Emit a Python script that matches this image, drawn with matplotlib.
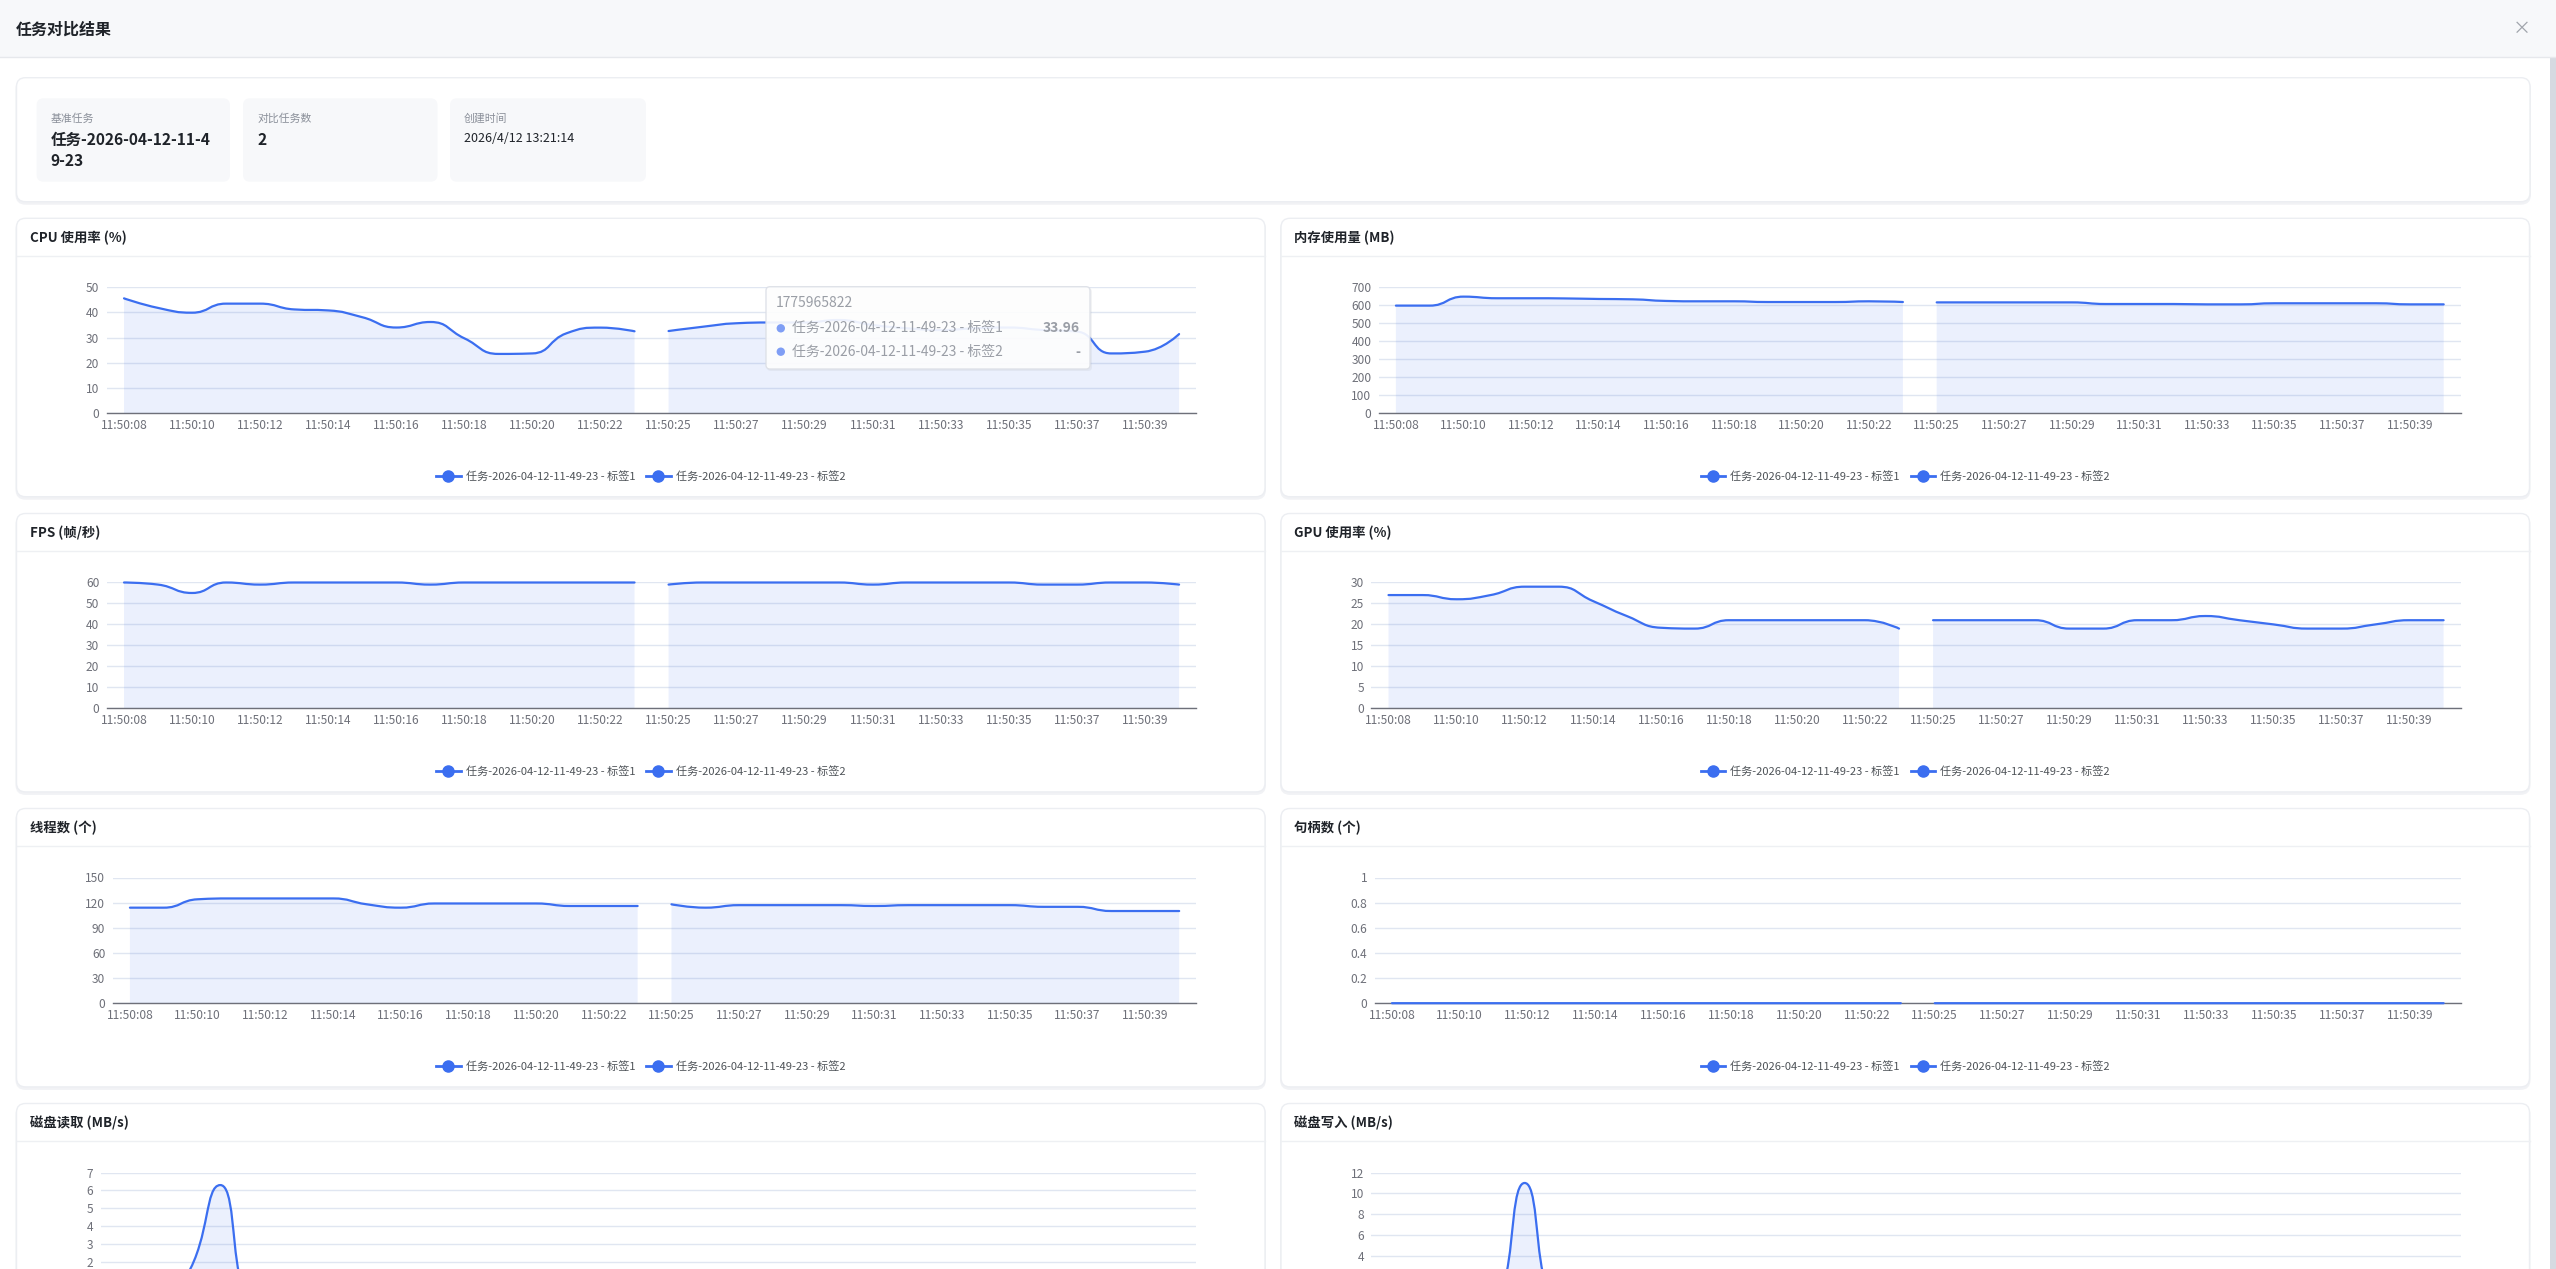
import matplotlib
matplotlib.use("Agg")
import matplotlib.pyplot as plt
from matplotlib.patches import FancyBboxPatch, Rectangle, PathPatch, Circle
from matplotlib.path import Path
from matplotlib.lines import Line2D
import numpy as np

plt.rcParams['font.family'] = ['Noto Sans CJK SC', 'DejaVu Sans']

W, H = 2556, 1269

# ---- data ----
times = ["11:50:%02d" % s for s in range(8, 24)] + ["11:50:%02d" % s for s in range(25, 41)]
series_names = ["任务-2026-04-12-11-49-23 - 标签1", "任务-2026-04-12-11-49-23 - 标签2"]

cpu_1 = [45.6, 41.8, 39.9, 43.5, 43.5, 41.2, 40.8, 38.1, 34.0, 36.2, 29.7, 23.5, 23.7, 31.7, 33.96, 32.5]
cpu_2 = [32.6, 34.3, 35.7, 36.0, 36.0, 37.0, 35.0, 33.7, 33.0, 33.7, 34.0, 33.0, 32.4, 23.7, 24.4, 31.4]

mem_1 = [598, 598, 648, 639, 639, 638, 635, 633, 624, 622, 622, 618, 618, 618, 622, 618]
mem_2 = [616, 616, 616, 616, 616, 607, 607, 607, 605, 605, 611, 611, 611, 611, 605, 605]

fps_1 = [60, 59, 55, 60, 59, 60, 60, 60, 60, 59, 60, 60, 60, 60, 60, 60]
fps_2 = [59, 60, 60, 60, 60, 60, 59, 60, 60, 60, 60, 59, 59, 60, 60, 59]

gpu_1 = [27, 27, 26, 27, 29, 29, 25.6, 22, 19.2, 19, 21, 21, 21, 21, 21, 19]
gpu_2 = [21, 21, 21, 21, 19, 19, 21, 21, 22, 21, 20, 19, 19, 20, 21, 21]

thr_1 = [114, 114, 124, 125, 125, 125, 125, 118, 114, 119, 119, 119, 119, 116, 116, 116]
thr_2 = [118, 114, 117, 117, 117, 117, 116, 117, 117, 117, 117, 115, 115, 110, 110, 110]

hdl_1 = [0] * 16
hdl_2 = [0] * 16

dr_1 = [0, 0, 1.2, 6.3, 0, 0, 0, 0, 0, 0, 0, 0, 0, 0, 0, 0]
dr_2 = [0] * 16

dw_1 = [0, 0, 0, 0, 11, 0, 0, 0, 0, 0, 0, 0, 0, 0, 0, 0]
dw_2 = [0] * 16

chart_titles = ["CPU 使用率 (%)", "内存使用量 (MB)", "FPS (帧/秒)", "GPU 使用率 (%)",
                "线程数 (个)", "句柄数 (个)", "磁盘读取 (MB/s)", "磁盘写入 (MB/s)"]

# colours
BLUE = "#3b6ef0"
GRID = "#e0e6f1"
AXIS = "#6e7079"
TXT = "#1f2329"


def smooth_path(xs, ys, sx, sy, smooth=0.5):
    # echarts style bezier smoothing, computed in pixel space
    pts = [(x * sx, y * sy) for x, y in zip(xs, ys)]
    n = len(pts)
    verts = [pts[0]]
    codes = [Path.MOVETO]
    cp0 = pts[0]
    for k in range(1, n):
        x, y = pts[k]
        px, py = pts[k - 1]
        if k == n - 1:
            cp1 = (x, y)
            ncp = (x, y)
        else:
            nx, ny = pts[k + 1]
            vx, vy = nx - px, ny - py
            lp = np.hypot(x - px, y - py)
            ln = np.hypot(nx - x, ny - y)
            r = ln / (ln + lp)
            ncx = x + vx * smooth * r
            ncy = y + vy * smooth * r
            ncx = min(max(ncx, min(nx, x)), max(nx, x))
            ncy = min(max(ncy, min(ny, y)), max(ny, y))
            vx, vy = ncx - x, ncy - y
            c1x = x - vx * lp / ln
            c1y = y - vy * lp / ln
            c1x = min(max(c1x, min(px, x)), max(px, x))
            c1y = min(max(c1y, min(py, y)), max(py, y))
            vx, vy = x - c1x, y - c1y
            ncp = (x + vx * ln / lp, y + vy * ln / lp)
            cp1 = (c1x, c1y)
        verts += [cp0, cp1, (x, y)]
        codes += [Path.CURVE4] * 3
        cp0 = ncp
    verts = [(a / sx, b / sy) for a, b in verts]
    return verts, codes


fig = plt.figure(figsize=(W / 100, H / 100), dpi=100)
fig.patch.set_facecolor("white")

bg = fig.add_axes([0, 0, 1, 1], zorder=0)
bg.set_xlim(0, W)
bg.set_ylim(H, 0)
bg.axis("off")


def rbox(ax, x0, y0, x1, y1, fc, ec="none", r=8, z=1, lw=1, alpha=1):
    ax.add_patch(FancyBboxPatch((x0, y0), x1 - x0, y1 - y0,
                                boxstyle="round,pad=0,rounding_size=%g" % r,
                                fc=fc, ec=ec, lw=lw, zorder=z, alpha=alpha))


def card(x0, y0, x1, y1):
    rbox(bg, x0 - 1, y0 + 1, x1 + 1, y1 + 3, "#f1f2f5", r=10, z=1)
    rbox(bg, x0, y0, x1, y1, "white", ec="#eceef2", r=9, z=2)


# header
bg.add_patch(Rectangle((0, 0), W, 57, fc="#f7f8fa", ec="none", zorder=1))
bg.plot([0, W], [57, 57], color="#e6e8ec", lw=1, zorder=2)
bg.text(16, 30, "任务对比结果", fontsize=11.5, fontweight="bold", color=TXT, va="center", zorder=3)
bg.text(2522, 29, "×", fontsize=13, color="#a0a4ab", va="center", ha="center", zorder=3)
bg.add_patch(Rectangle((2550, 57), 6, H - 57, fc="#d6dae1", ec="none", zorder=1))

# info card
card(16.5, 77.7, 2530, 201.7)
info_boxes = [(36.6, 230), (243, 437.5), (450, 646)]
for x0, x1 in info_boxes:
    rbox(bg, x0, 98.3, x1, 181.7, "#f7f8fa", r=7, z=3)
bg.text(50.4, 118.3, "基准任务", fontsize=7.8, color="#8a8f99", va="center", zorder=4)
bg.text(50.4, 140, "任务-2026-04-12-11-4", fontsize=11.2, fontweight="bold", color=TXT, va="center", zorder=4)
bg.text(50.4, 160.5, "9-23", fontsize=11.2, fontweight="bold", color=TXT, va="center", zorder=4)
bg.text(257.6, 118.3, "对比任务数", fontsize=7.8, color="#8a8f99", va="center", zorder=4)
bg.text(257.6, 140, "2", fontsize=11.2, fontweight="bold", color=TXT, va="center", zorder=4)
bg.text(464, 118.3, "创建时间", fontsize=7.8, color="#8a8f99", va="center", zorder=4)
bg.text(464, 138.5, "2026/4/12 13:21:14", fontsize=9, color=TXT, va="center", zorder=4)

# chart cards layout
col_left = [16.5, 1281]
card_w = 1248.5
row_top = [218.3, 513.5, 808.5, 1103.5]
axis_off = [90.5, 98, 90.5, 90.5, 96.5, 94, 84, 90.5]

charts = [
    (cpu_1, cpu_2, 50, 10),
    (mem_1, mem_2, 700, 100),
    (fps_1, fps_2, 60, 10),
    (gpu_1, gpu_2, 30, 5),
    (thr_1, thr_2, 150, 30),
    (hdl_1, hdl_2, 1, 0.2),
    (dr_1, dr_2, 7, 1),
    (dw_1, dw_2, 12, 2),
]

n_cat = len(times)
for i, (s1, s2, ymax, ystep) in enumerate(charts):
    cx0 = col_left[i % 2]
    cy0 = row_top[i // 2]
    card(cx0, cy0, cx0 + card_w, cy0 + 278.4)
    bg.plot([cx0, cx0 + card_w], [cy0 + 37.8, cy0 + 37.8], color="#eef0f3", lw=1, zorder=3)
    bg.text(cx0 + 13.5, cy0 + 19.5, chart_titles[i], fontsize=9.6, fontweight="bold",
            color=TXT, va="center", zorder=4)

    ax_l = cx0 + axis_off[i]
    ax_r = cx0 + 1179.6
    ax_t = cy0 + 69
    ax_b = cy0 + 194.7
    ax = fig.add_axes([ax_l / W, 1 - ax_b / H, (ax_r - ax_l) / W, (ax_b - ax_t) / H], zorder=5)
    ax.patch.set_alpha(0)
    ax.set_xlim(-0.5, n_cat - 0.5)
    ax.set_ylim(0, ymax)

    # the page is scrolled: labels that fall below the window are not shown
    yt = np.arange(0, ymax + ystep / 2, ystep)
    ypix = ax_b - (ax_b - ax_t) * yt / ymax
    yt = yt[ypix < H - 4]
    ax.set_yticks(yt)
    ax.set_yticklabels(["%g" % round(v, 2) for v in yt])
    if ax_b + 20 < H:
        ax.set_xticks(range(0, n_cat, 2))
        ax.set_xticklabels(times[::2])
    else:
        ax.set_xticks([])
    ax.tick_params(axis="both", length=0, labelsize=8.6, labelcolor=AXIS)
    ax.tick_params(axis="x", pad=4.5)
    ax.tick_params(axis="y", pad=5.5)
    for sp in ["top", "left", "right"]:
        ax.spines[sp].set_visible(False)
    ax.spines["bottom"].set_color(AXIS)
    ax.spines["bottom"].set_linewidth(1)
    ax.yaxis.grid(True, color=GRID, lw=1)
    ax.set_axisbelow(True)

    bbox = ax.get_position()
    sx = bbox.width * W / n_cat
    sy = bbox.height * H / ymax
    for xs, ys in [(list(range(0, 16)), s1), (list(range(16, 32)), s2)]:
        verts, codes = smooth_path(xs, ys, sx, sy)
        fv = verts + [(xs[-1], 0), (xs[0], 0), (xs[0], ys[0])]
        fc = codes + [Path.LINETO, Path.LINETO, Path.CLOSEPOLY]
        ax.add_patch(PathPatch(Path(fv, fc), facecolor=BLUE, alpha=0.1, edgecolor="none", zorder=2))
        ax.add_patch(PathPatch(Path(verts, codes), facecolor="none", edgecolor=BLUE, lw=1.6,
                               zorder=4, clip_on=False, capstyle="round", joinstyle="round"))

    handles = [Line2D([0], [0], color=BLUE, lw=2, marker="o", markersize=8) for _ in series_names]
    leg_y = cy0 + 257.7
    if leg_y < H:
        ax.legend(handles, series_names, loc="center", ncol=2, frameon=False,
                  bbox_to_anchor=((cx0 + card_w / 2) / W, 1 - leg_y / H),
                  bbox_transform=fig.transFigure, fontsize=8, labelcolor="#4e5358",
                  handlelength=2.2, handletextpad=0.45, columnspacing=1.0)

# tooltip on the CPU chart
top = fig.add_axes([0, 0, 1, 1], zorder=20)
top.set_xlim(0, W)
top.set_ylim(H, 0)
top.axis("off")
rbox(top, 767, 288, 1092, 371, "#9aa0aa", r=4, z=1, alpha=0.12)
rbox(top, 766, 286.7, 1090, 369, "white", ec="#dcdfe6", r=4, z=2, alpha=0.9)
top.text(776, 303.3, "1775965822", fontsize=10, color="#9a9ea6", va="center", zorder=3)
tip_vals = ["33.96", "-"]
for k, yy in enumerate([328.3, 351.7]):
    top.add_patch(Circle((780.8, yy), 4.2, fc="#7f9ef5", ec="none", zorder=3))
    top.text(792, yy, series_names[k], fontsize=10, color="#9a9ea6", va="center", zorder=3)
    top.text(1080, yy, tip_vals[k], fontsize=10, fontweight="bold", color="#9a9ea6",
             va="center", ha="right", zorder=3)

fig.savefig("out.png", dpi=100)
